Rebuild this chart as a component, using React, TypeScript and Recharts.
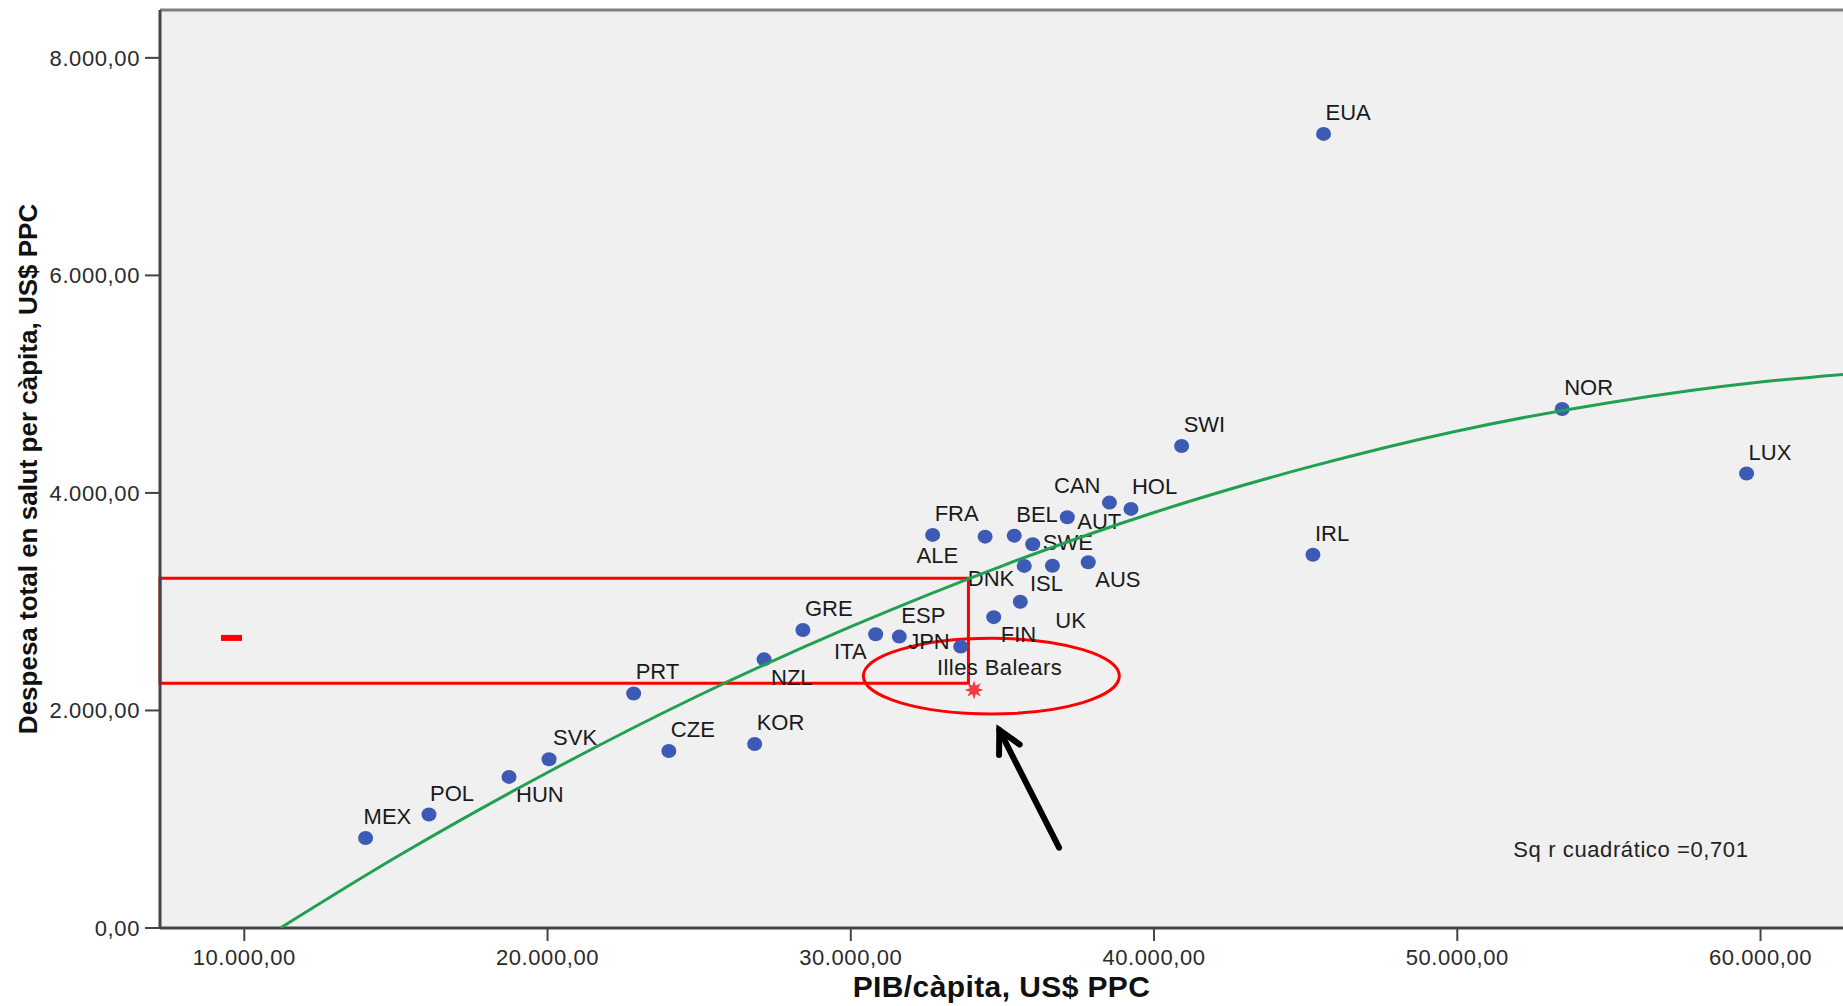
import React from 'react';
import {
  ScatterChart,
  Scatter,
  XAxis,
  YAxis,
  CartesianGrid,
  ReferenceLine,
  ReferenceArea,
  ReferenceDot,
} from 'recharts';

// OECD countries: GDP per capita vs total health spending per capita (US$ PPP)
const COUNTRIES = [
  'MEX', 'POL', 'HUN', 'SVK', 'PRT', 'CZE', 'KOR', 'NZL', 'GRE', 'ITA',
  'ESP', 'JPN', 'FIN', 'UK', 'FRA', 'ALE', 'BEL', 'SWE', 'DNK', 'ISL',
  'AUS', 'AUT', 'CAN', 'HOL', 'SWI', 'IRL', 'EUA', 'NOR', 'LUX',
];
const GDP_PC = [
  14000, 16090, 18730, 20050, 22840, 24000, 26830, 27140, 28420, 30820,
  31600, 33625, 34714, 35590, 32700, 34430, 35390, 36000, 35720, 36650,
  37830, 37140, 38530, 39240, 40910, 45240, 45590, 53460, 59540,
];
const HEALTH_PC = [
  827, 1043, 1389, 1551, 2156, 1627, 1692, 2470, 2740, 2701,
  2679, 2587, 2858, 3000, 3614, 3598, 3607, 3528, 3329, 3331,
  3363, 3777, 3911, 3853, 4432, 3432, 7301, 4772, 4178,
];

// Balearic Islands, highlighted
const REGION = 'Illes Balears';
const REGION_GDP = 34065;
const REGION_HEALTH = 2189;

// quadratic fit curve
const FIT_GDP = [11190, 15000, 20000, 25000, 30000, 35000, 40000, 45000, 50000, 55000, 60000, 62720];
const FIT_HEALTH = [0, 650, 1430, 2140, 2770, 3330, 3820, 4230, 4570, 4830, 5020, 5090];
const R2_TEXT = 'Sq r cuadrático =0,701';

const X_TICKS = [10000, 20000, 30000, 40000, 50000, 60000];
const Y_TICKS = [0, 2000, 4000, 6000, 8000];
const X_MIN = 7220;
const X_MAX = 62720;
const Y_MAX = 8440;

// hand-drawn annotations (data units)
const BOX_X = [X_MIN, 33880];
const BOX_Y = [2250, 3216];
const ELLIPSE_X = [30414, 38856];
const ELLIPSE_Y = [1968, 2664];
const DASH_X = [9232, 9924];
const DASH_Y = 2667;
const ARROW_TAIL = { x: 36868, y: 738 };
const ARROW_HEAD = { x: 34898, y: 1821 };
const R2_POS = { x: 51849, y: 650 };

const points = COUNTRIES.map((name, i) => ({ name, x: GDP_PC[i], y: HEALTH_PC[i] }));
const regionPoint = [{ name: REGION, x: REGION_GDP, y: REGION_HEALTH }];
const fitPoints = FIT_GDP.map((x, i) => ({ x, y: FIT_HEALTH[i] }));

const FONT = '"Liberation Sans", Arial, sans-serif';
const BLUE = '#3d5ab4';
const GREEN = '#22a052';
const RED = '#ff0000';
const AXIS = '#444444';

// label placement next to each dot: [dx, dy, anchor]
const LABEL_POS: Record<string, [number, number, string]> = {
  MEX: [-2, -14, 'start'],
  POL: [1, -14, 'start'],
  HUN: [7, 25, 'start'],
  SVK: [4, -14, 'start'],
  NZL: [7, 26, 'start'],
  ITA: [-9, 25, 'end'],
  JPN: [-11, 2, 'end'],
  FIN: [7, 25, 'start'],
  UK: [35, 26, 'start'],
  ALE: [-27, 26, 'end'],
  SWE: [10, 6, 'start'],
  DNK: [-10, 20, 'end'],
  ISL: [-6, 25, 'middle'],
  AUS: [7, 25, 'start'],
  AUT: [10, 12, 'start'],
  CAN: [-9, -10, 'end'],
  HOL: [1, -15, 'start'],
};

const fmt = (v: number) => {
  const [i, d] = v.toFixed(2).split('.');
  return i.replace(/\B(?=(\d{3})+(?!\d))/g, '.') + ',' + d;
};

const CountryDot = (props: any) => {
  const { cx, cy, payload } = props;
  const [dx, dy, anchor] = LABEL_POS[payload.name] || [2, -14, 'start'];
  return (
    <g>
      <ellipse cx={cx} cy={cy} rx={7.5} ry={7} fill={BLUE} />
      <text
        x={cx + dx}
        y={cy + dy}
        textAnchor={anchor}
        fontFamily={FONT}
        fontSize={22}
        fill="#1a1a1a"
      >
        {payload.name}
      </text>
    </g>
  );
};

const RegionStar = (props: any) => {
  const { cx, cy, payload } = props;
  const pts: string[] = [];
  for (let i = 0; i < 16; i++) {
    const r = i % 2 === 0 ? 9.5 : 4.5;
    const a = (i * Math.PI) / 8 - Math.PI / 2;
    pts.push(`${cx + r * Math.cos(a)},${cy + r * Math.sin(a)}`);
  }
  return (
    <g>
      <polygon points={pts.join(' ')} fill="#f03a44" />
      <text
        x={cx - 37}
        y={cy - 15}
        fontFamily={FONT}
        fontSize={22}
        letterSpacing={0.4}
        fill="#1a1a1a"
      >
        {payload.name}
      </text>
    </g>
  );
};

const NoDot = () => <g />;

const EllipseShape = (props: any) => {
  const { x, y, width, height } = props;
  return (
    <ellipse
      cx={x + width / 2}
      cy={y + height / 2}
      rx={width / 2}
      ry={height / 2}
      fill="none"
      stroke={RED}
      strokeWidth={3}
    />
  );
};

const ArrowShape = (props: any) => {
  const { x1, y1, x2, y2 } = props;
  const back = Math.atan2(y1 - y2, x1 - x2);
  const len = 25;
  const spread = 0.48;
  const a1 = `${x2 + len * Math.cos(back + spread)},${y2 + len * Math.sin(back + spread)}`;
  const a2 = `${x2 + len * Math.cos(back - spread)},${y2 + len * Math.sin(back - spread)}`;
  return (
    <g stroke="#000" strokeWidth={6} fill="none" strokeLinecap="round">
      <line x1={x1} y1={y1} x2={x2} y2={y2} />
      <polyline points={`${a1} ${x2},${y2} ${a2}`} strokeLinejoin="miter" />
    </g>
  );
};

const R2Label = (props: any) => (
  <text
    x={props.cx}
    y={props.cy}
    fontFamily={FONT}
    fontSize={22}
    letterSpacing={0.6}
    fill="#222"
  >
    {R2_TEXT}
  </text>
);

const XTitle = (props: any) => {
  const vb = props.viewBox;
  return (
    <text
      x={vb.x + vb.width / 2}
      y={vb.y + vb.height - 9}
      textAnchor="middle"
      fontFamily={FONT}
      fontWeight="bold"
      fontSize={30}
      letterSpacing={0.4}
      fill="#111"
    >
      PIB/càpita, US$ PPC
    </text>
  );
};

const YTitle = (props: any) => {
  const vb = props.viewBox;
  const cy = vb.y + vb.height / 2;
  return (
    <text
      x={37}
      y={cy}
      transform={`rotate(-90, 37, ${cy})`}
      textAnchor="middle"
      fontFamily={FONT}
      fontWeight="bold"
      fontSize={26}
      fill="#111"
    >
      Despesa total en salut per càpita, US$ PPC
    </text>
  );
};

const tickStyle = { fontFamily: FONT, fontSize: 22, fill: '#2a2a2a', letterSpacing: 0.6 };

export default function App() {
  return (
    <div style={{ position: 'absolute', left: 0, top: 0, background: '#fff' }}>
      <ScatterChart width={1843} height={1006} margin={{ top: 10, right: 0, bottom: 0, left: 0 }}>
        <CartesianGrid fill="#f0f0f0" stroke="none" horizontal={false} vertical={false} />
        <XAxis
          type="number"
          dataKey="x"
          domain={[X_MIN, X_MAX]}
          ticks={X_TICKS}
          interval={0}
          allowDataOverflow
          tickFormatter={fmt}
          height={78}
          tickSize={13}
          tickMargin={8}
          tick={tickStyle}
          axisLine={{ stroke: AXIS, strokeWidth: 3 }}
          tickLine={{ stroke: AXIS, strokeWidth: 2 }}
          label={{ content: XTitle }}
        />
        <YAxis
          type="number"
          dataKey="y"
          domain={[0, Y_MAX]}
          ticks={Y_TICKS}
          interval={0}
          allowDataOverflow
          tickFormatter={fmt}
          width={160}
          tickSize={15}
          tickMargin={5}
          tick={tickStyle}
          axisLine={{ stroke: AXIS, strokeWidth: 3 }}
          tickLine={{ stroke: AXIS, strokeWidth: 2 }}
          label={{ content: YTitle }}
        />
        <ReferenceLine y={Y_MAX} stroke="#808080" strokeWidth={3} />
        <Scatter data={points} shape={CountryDot} isAnimationActive={false} />
        <Scatter
          data={fitPoints}
          shape={NoDot}
          line={{ stroke: GREEN, strokeWidth: 3 }}
          lineJointType="monotoneX"
          isAnimationActive={false}
        />
        <Scatter data={regionPoint} shape={RegionStar} isAnimationActive={false} />
        <ReferenceArea
          x1={BOX_X[0]}
          x2={BOX_X[1]}
          y1={BOX_Y[0]}
          y2={BOX_Y[1]}
          fill="none"
          stroke={RED}
          strokeWidth={3}
        />
        <ReferenceArea
          x1={ELLIPSE_X[0]}
          x2={ELLIPSE_X[1]}
          y1={ELLIPSE_Y[0]}
          y2={ELLIPSE_Y[1]}
          shape={EllipseShape}
        />
        <ReferenceLine
          segment={[{ x: DASH_X[0], y: DASH_Y }, { x: DASH_X[1], y: DASH_Y }]}
          stroke={RED}
          strokeWidth={6}
        />
        <ReferenceLine segment={[ARROW_TAIL, ARROW_HEAD]} shape={ArrowShape} />
        <ReferenceDot x={R2_POS.x} y={R2_POS.y} r={0} shape={R2Label} />
      </ScatterChart>
    </div>
  );
}
